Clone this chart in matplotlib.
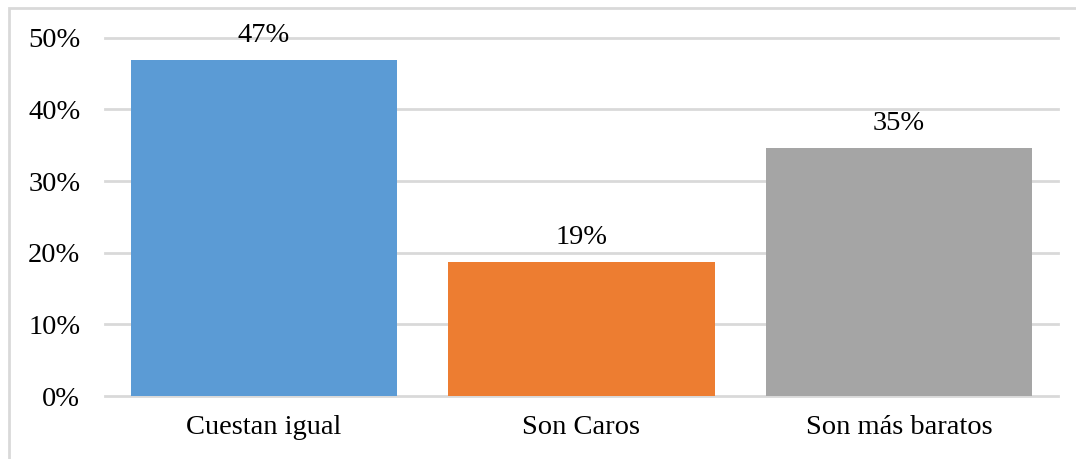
import matplotlib
matplotlib.use("Agg")
import matplotlib.pyplot as plt
from matplotlib.patches import Rectangle
from matplotlib.ticker import FuncFormatter

categories = ["Cuestan igual", "Son Caros", "Son más baratos"]
values = [46.9, 18.7, 34.6]
colors = ["#5B9BD5", "#ED7D31", "#A5A5A5"]
yticks = [0, 10, 20, 30, 40, 50]

plt.rcParams['font.family'] = ['Liberation Serif', 'DejaVu Serif']

fig = plt.figure(figsize=(10.76, 4.59), dpi=100)
ax = fig.add_axes([105.3 / 1076, 1 - 396 / 459, (1057.7 - 105.3) / 1076, (396 - 37.7) / 459])

x = range(len(categories))
bars = ax.bar(x, values, width=0.838, color=colors, zorder=3)
ax.set_xlim(-0.5, len(categories) - 0.5)
ax.set_ylim(0, 50)
ax.set_yticks(yticks)
ax.yaxis.set_major_formatter(FuncFormatter(lambda v, p: f"{v:.0f}%"))
ax.set_xticks(list(x))
ax.set_xticklabels(categories)
ax.tick_params(axis='both', length=0, labelsize=20.5, colors='#000000')
ax.tick_params(axis='y', pad=18)
ax.tick_params(axis='x', pad=14)
ax.grid(axis='y', color='#d9d9d9', linewidth=2, zorder=0)
for gl in ax.get_ygridlines():
    gl.set_clip_on(False)
for s in ax.spines.values():
    s.set_visible(False)

for b, v in zip(bars, values):
    ax.annotate(f"{v:.0f}%", (b.get_x() + b.get_width() / 2, v),
                xytext=(0, 13), textcoords='offset points',
                ha='center', va='baseline', fontsize=20.5)

fig.patches.append(Rectangle((9 / 1076, -0.1), 1.1, 1 - 8 / 459 + 0.1,
                             transform=fig.transFigure, fill=False,
                             edgecolor='#d9d9d9', linewidth=2, zorder=0))

fig.savefig("out.png", dpi=100)
